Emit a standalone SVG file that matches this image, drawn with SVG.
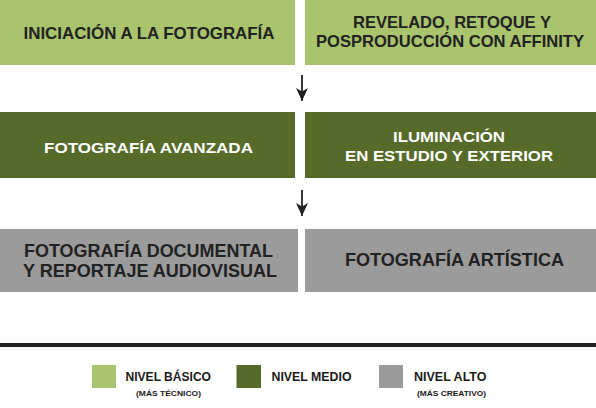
<svg xmlns="http://www.w3.org/2000/svg" width="596" height="408" viewBox="0 0 596 408">
<style>
.bas{fill:#a9c46c}
.med{fill:#566b29}
.alt{fill:#9b9b9b}
text{font-family:"Liberation Sans","DejaVu Sans",sans-serif;font-weight:700;text-anchor:middle}
.dk{fill:#222222}
.wh{fill:#ffffff}
.t1{font-size:16.5px}
.t2{font-size:15.5px}
.t3{font-size:17.5px}
.lg{font-size:12.5px;text-anchor:start;fill:#1a1a1a}
.sm{font-size:7px;fill:#1a1a1a}
.conn{stroke:#222;stroke-width:1.8;fill:none}
</style>
<defs>
<marker id="ah" viewBox="0 0 12 13" markerWidth="12" markerHeight="13" refX="13" refY="6" orient="auto" markerUnits="userSpaceOnUse">
<path d="M0,0 L13,6 L0,12 L3.5,6 z" fill="#222"/>
</marker>
</defs>
<rect width="596" height="408" fill="#ffffff"/>
<g id="n1">
<rect class="bas" x="0" y="0" width="295" height="65"/>
<text class="t1 dk" x="149" y="39" textLength="251" lengthAdjust="spacingAndGlyphs">INICIACIÓN A LA FOTOGRAFÍA</text>
</g>
<g id="n2">
<rect class="bas" x="305" y="0" width="291" height="65"/>
<text class="t1 dk" x="452" y="28" textLength="198" lengthAdjust="spacingAndGlyphs">REVELADO, RETOQUE Y</text>
<text class="t1 dk" x="450" y="47" textLength="268" lengthAdjust="spacingAndGlyphs">POSPRODUCCIÓN CON AFFINITY</text>
</g>
<g id="n3">
<rect class="med" x="0" y="112" width="295" height="66"/>
<text class="t2 wh" x="148.5" y="153" textLength="209" lengthAdjust="spacingAndGlyphs">FOTOGRAFÍA AVANZADA</text>
</g>
<g id="n4">
<rect class="med" x="305" y="112" width="291" height="66"/>
<text class="t2 wh" x="449" y="142" textLength="112" lengthAdjust="spacingAndGlyphs">ILUMINACIÓN</text>
<text class="t2 wh" x="449" y="161" textLength="208" lengthAdjust="spacingAndGlyphs">EN ESTUDIO Y EXTERIOR</text>
</g>
<g id="n5">
<rect class="alt" x="0" y="229" width="298" height="63"/>
<text class="t3 dk" x="148.5" y="257" textLength="249" lengthAdjust="spacingAndGlyphs">FOTOGRAFÍA DOCUMENTAL</text>
<text class="t3 dk" x="150" y="277" textLength="254" lengthAdjust="spacingAndGlyphs">Y REPORTAJE AUDIOVISUAL</text>
</g>
<g id="n6">
<rect class="alt" x="305" y="229" width="291" height="63"/>
<text class="t3 dk" x="454.5" y="266" textLength="219" lengthAdjust="spacingAndGlyphs">FOTOGRAFÍA ARTÍSTICA</text>
</g>
<g id="connectors">
<line class="conn" x1="302" y1="75" x2="302" y2="101" marker-end="url(#ah)"/>
<line class="conn" x1="302" y1="190" x2="302" y2="216" marker-end="url(#ah)"/>
</g>
<g id="legend">
<rect x="0" y="343" width="596" height="4" fill="#222"/>
<rect class="bas" x="92" y="365" width="24" height="23"/>
<text class="lg" x="125.5" y="381" textLength="85.5" lengthAdjust="spacingAndGlyphs">NIVEL BÁSICO</text>
<text class="sm" x="168.5" y="396" textLength="65" lengthAdjust="spacingAndGlyphs">(MÁS TÉCNICO)</text>
<rect class="med" x="236.5" y="365" width="24.5" height="23"/>
<text class="lg" x="271.5" y="381" textLength="80" lengthAdjust="spacingAndGlyphs">NIVEL MEDIO</text>
<rect class="alt" x="379" y="365" width="24" height="23"/>
<text class="lg" x="414" y="381" textLength="72.5" lengthAdjust="spacingAndGlyphs">NIVEL ALTO</text>
<text class="sm" x="451.5" y="396" textLength="69" lengthAdjust="spacingAndGlyphs">(MÁS CREATIVO)</text>
</g>
</svg>
